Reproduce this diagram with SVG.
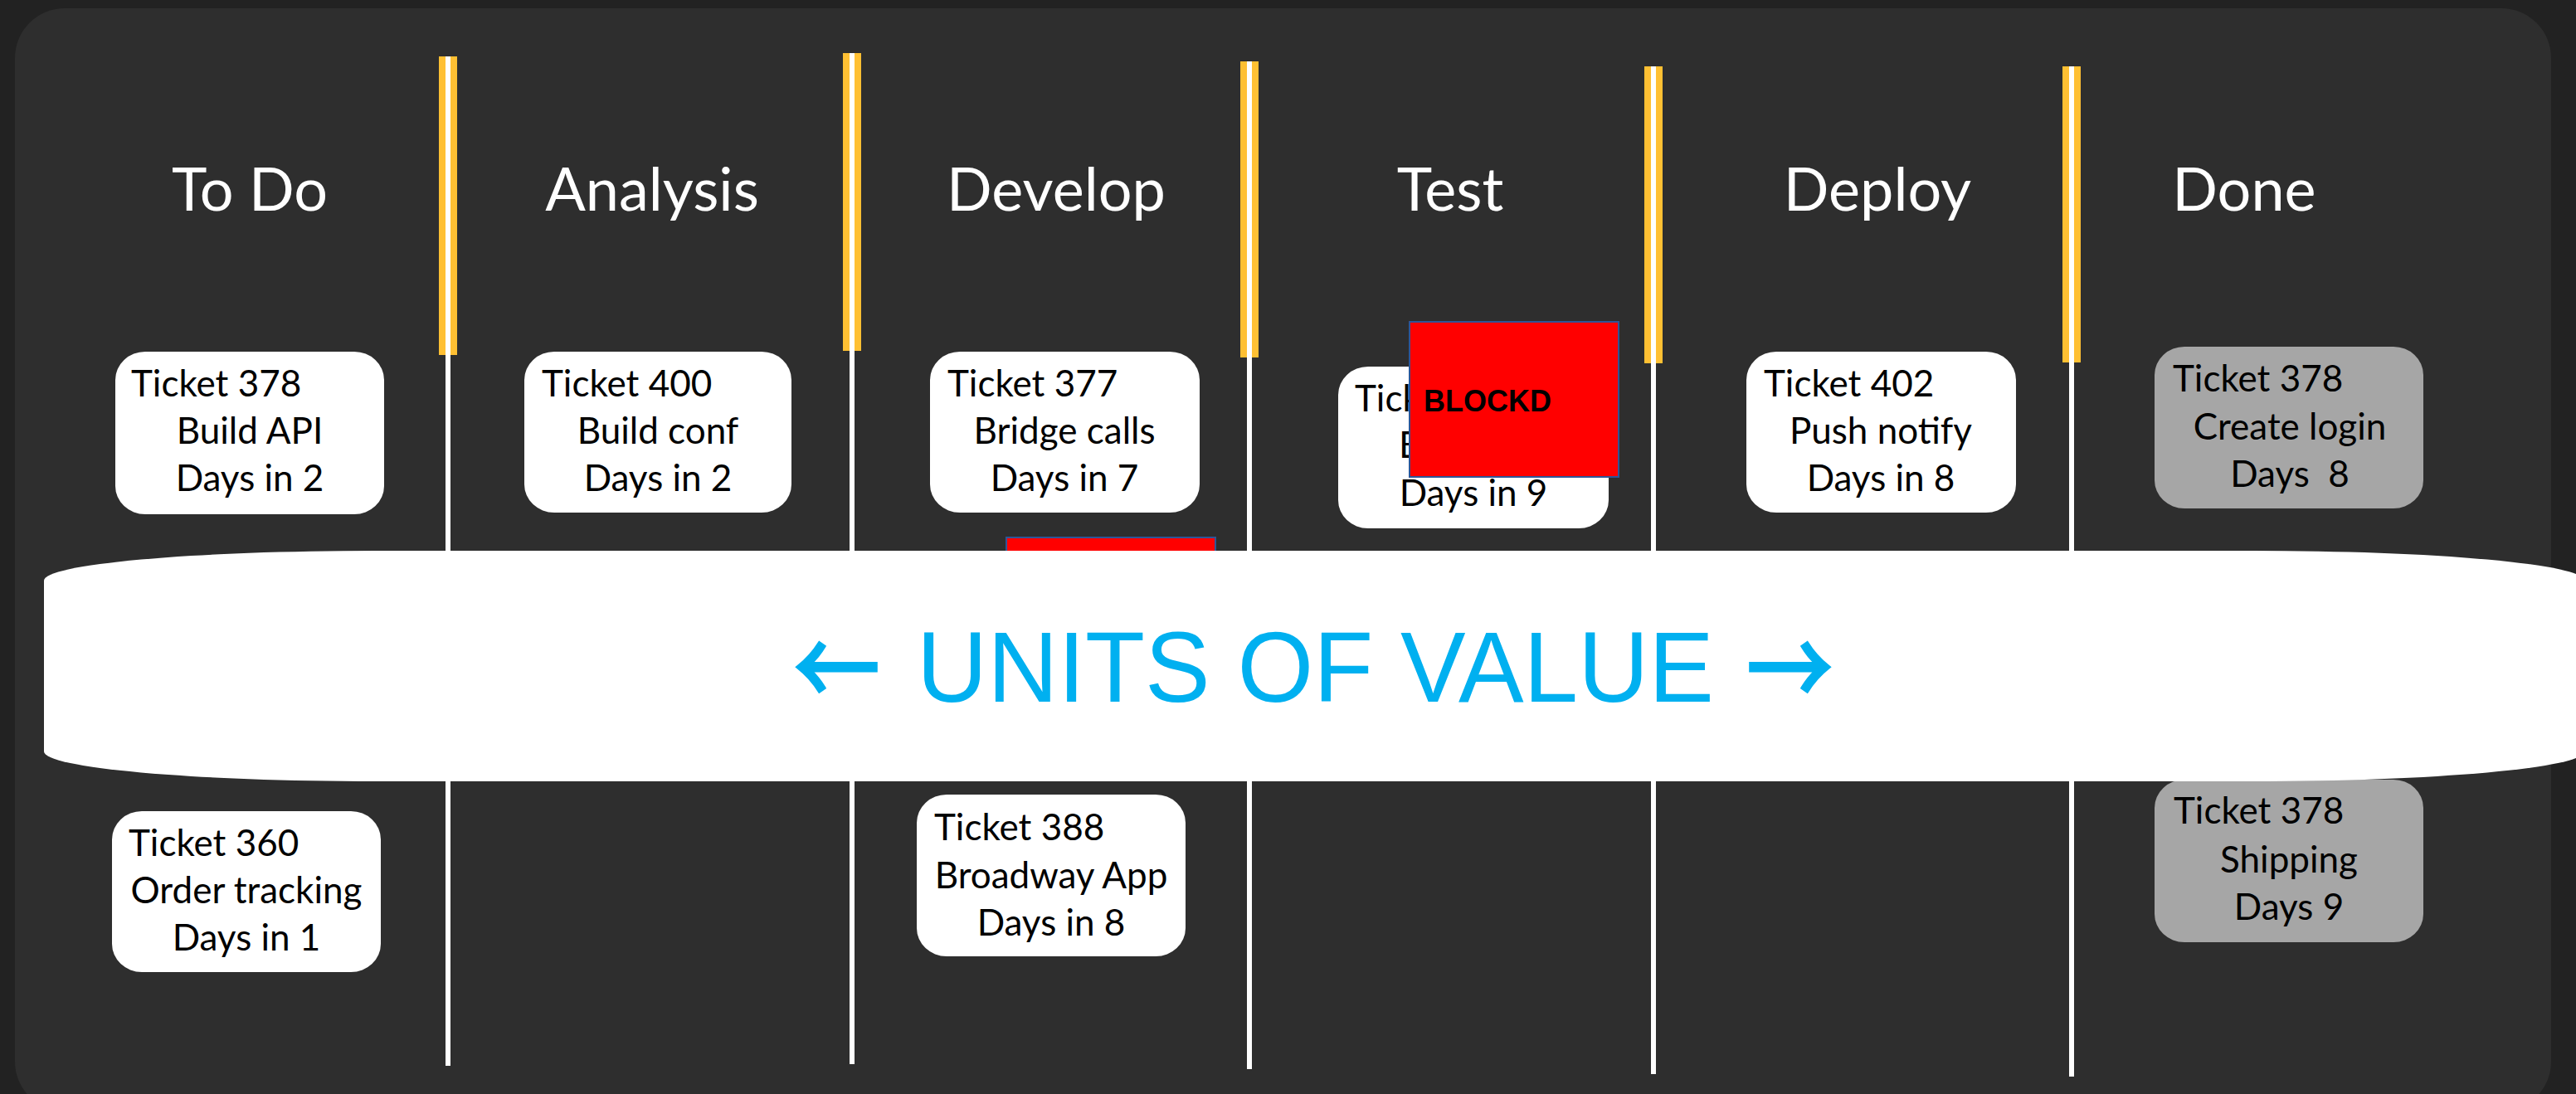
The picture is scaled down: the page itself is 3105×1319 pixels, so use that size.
<svg xmlns="http://www.w3.org/2000/svg" width="3105" height="1319" viewBox="0 0 3105 1319">
<style>
.hdr{font-family:Lato,"Liberation Sans",sans-serif;font-size:72px;fill:#ffffff;text-anchor:middle}
.card{fill:#ffffff}
.done{fill:#a6a6a6}
.t{font-family:Lato,"Liberation Sans",sans-serif;font-size:44px;fill:#000000}
.c{text-anchor:middle}
.yel{fill:#ffc033}
.wl{stroke:#ffffff;stroke-width:6}
.red{fill:#ff0000;stroke:#2f5597;stroke-width:2}
.blk{font-family:"Liberation Sans",Arial,sans-serif;font-weight:bold;font-size:36px;fill:#000000}
.uv{font-family:"Liberation Sans",Arial,sans-serif;font-size:120px;fill:#00b0f0}
.arr{font-family:"Noto Sans CJK JP","Liberation Sans",sans-serif;font-size:125px;fill:#00b0f0;stroke:#00b0f0;stroke-width:4;stroke-linejoin:miter}
</style>
<rect x="0" y="0" width="3105" height="1319" fill="#222222"/>
<rect x="18" y="10" width="3057" height="1330" rx="60" ry="60" fill="#2e2e2e"/>

<g id="headers">
<text class="hdr" x="301" y="254">To Do</text>
<text class="hdr" x="786" y="254">Analysis</text>
<text class="hdr" x="1273" y="254">Develop</text>
<text class="hdr" x="1748" y="254">Test</text>
<text class="hdr" x="2263" y="254">Deploy</text>
<text class="hdr" x="2705" y="254">Done</text>
</g>

<g id="connectors">
<rect class="yel" x="529" y="68" width="22" height="360"/>
<line class="wl" x1="540" y1="68" x2="540" y2="1285"/>
<rect class="yel" x="1016" y="64" width="22" height="359"/>
<line class="wl" x1="1027" y1="64" x2="1027" y2="1283"/>
<rect class="yel" x="1495" y="74" width="22" height="357"/>
<line class="wl" x1="1506" y1="74" x2="1506" y2="1289"/>
<rect class="yel" x="1982" y="80" width="22" height="358"/>
<line class="wl" x1="1993" y1="80" x2="1993" y2="1295"/>
<rect class="yel" x="2486" y="80" width="22" height="357"/>
<line class="wl" x1="2497" y1="80" x2="2497" y2="1298"/>
</g>

<g id="card-378-build-api">
<rect class="card" x="139" y="424" width="324" height="196" rx="36" ry="34"/>
<text class="t" x="158" y="478">Ticket 378</text>
<text class="t c" x="301" y="535">Build API</text>
<text class="t c" x="301" y="592">Days in 2</text>
</g>

<g id="card-400">
<rect class="card" x="632" y="424" width="322" height="194" rx="36" ry="34"/>
<text class="t" x="653" y="478">Ticket 400</text>
<text class="t c" x="793" y="535">Build conf</text>
<text class="t c" x="793" y="592">Days in 2</text>
</g>

<g id="card-377">
<rect class="card" x="1121" y="424" width="325" height="194" rx="36" ry="34"/>
<text class="t" x="1142" y="478">Ticket 377</text>
<text class="t c" x="1283" y="535">Bridge calls</text>
<text class="t c" x="1283" y="592">Days in 7</text>
</g>

<g id="card-test">
<rect class="card" x="1613" y="442" width="326" height="195" rx="36" ry="34"/>
<text class="t" x="1633" y="496">Tick</text>
<text class="t" x="1686" y="552">B</text>
<text class="t c" x="1776" y="610">Days in 9</text>
</g>

<g id="blocked-test">
<rect class="red" x="1699" y="388" width="252" height="187"/>
<text class="blk" x="1716" y="496">BLOCKD</text>
</g>

<g id="card-402">
<rect class="card" x="2105" y="424" width="325" height="194" rx="36" ry="34"/>
<text class="t" x="2126" y="478">Ticket 402</text>
<text class="t c" x="2267" y="535">Push notify</text>
<text class="t c" x="2267" y="592">Days in 8</text>
</g>

<g id="card-378-login">
<rect class="done" x="2597" y="418" width="324" height="195" rx="36" ry="34"/>
<text class="t" x="2619" y="472">Ticket 378</text>
<text class="t c" x="2760" y="530">Create login</text>
<text class="t c" x="2760" y="587" xml:space="preserve">Days  8</text>
</g>

<g id="card-360">
<rect class="card" x="135" y="978" width="324" height="194" rx="36" ry="34"/>
<text class="t" x="155" y="1032">Ticket 360</text>
<text class="t c" x="297" y="1089">Order tracking</text>
<text class="t c" x="297" y="1146">Days in 1</text>
</g>

<g id="card-388">
<rect class="card" x="1105" y="958" width="324" height="195" rx="36" ry="34"/>
<text class="t" x="1126" y="1013">Ticket 388</text>
<text class="t c" x="1267" y="1071">Broadway App</text>
<text class="t c" x="1267" y="1128">Days in 8</text>
</g>

<g id="card-378-shipping">
<rect class="done" x="2597" y="940" width="324" height="196" rx="36" ry="34"/>
<text class="t" x="2620" y="993">Ticket 378</text>
<text class="t c" x="2759" y="1052">Shipping</text>
<text class="t c" x="2759" y="1109">Days 9</text>
</g>

<g id="blocked-develop">
<rect class="red" x="1213" y="648" width="252" height="187"/>
</g>

<g id="units-of-value">
<path d="M453,664 H2715 A400 36 0 0 1 3115,700 V906 A400 36 0 0 1 2715,942 H453 A400 36 0 0 1 53,906 V700 A400 36 0 0 1 453,664 Z" fill="#ffffff"/>
<text class="arr" x="1009" y="852" text-anchor="middle" transform="translate(1009,0) scale(0.82,1) translate(-1009,0)">←</text>
<text class="uv" x="1105" y="846" textLength="961" lengthAdjust="spacingAndGlyphs">UNITS OF VALUE</text>
<text class="arr" x="2157" y="852" text-anchor="middle" transform="translate(2157,0) scale(0.82,1) translate(-2157,0)">→</text>
</g>
</svg>
